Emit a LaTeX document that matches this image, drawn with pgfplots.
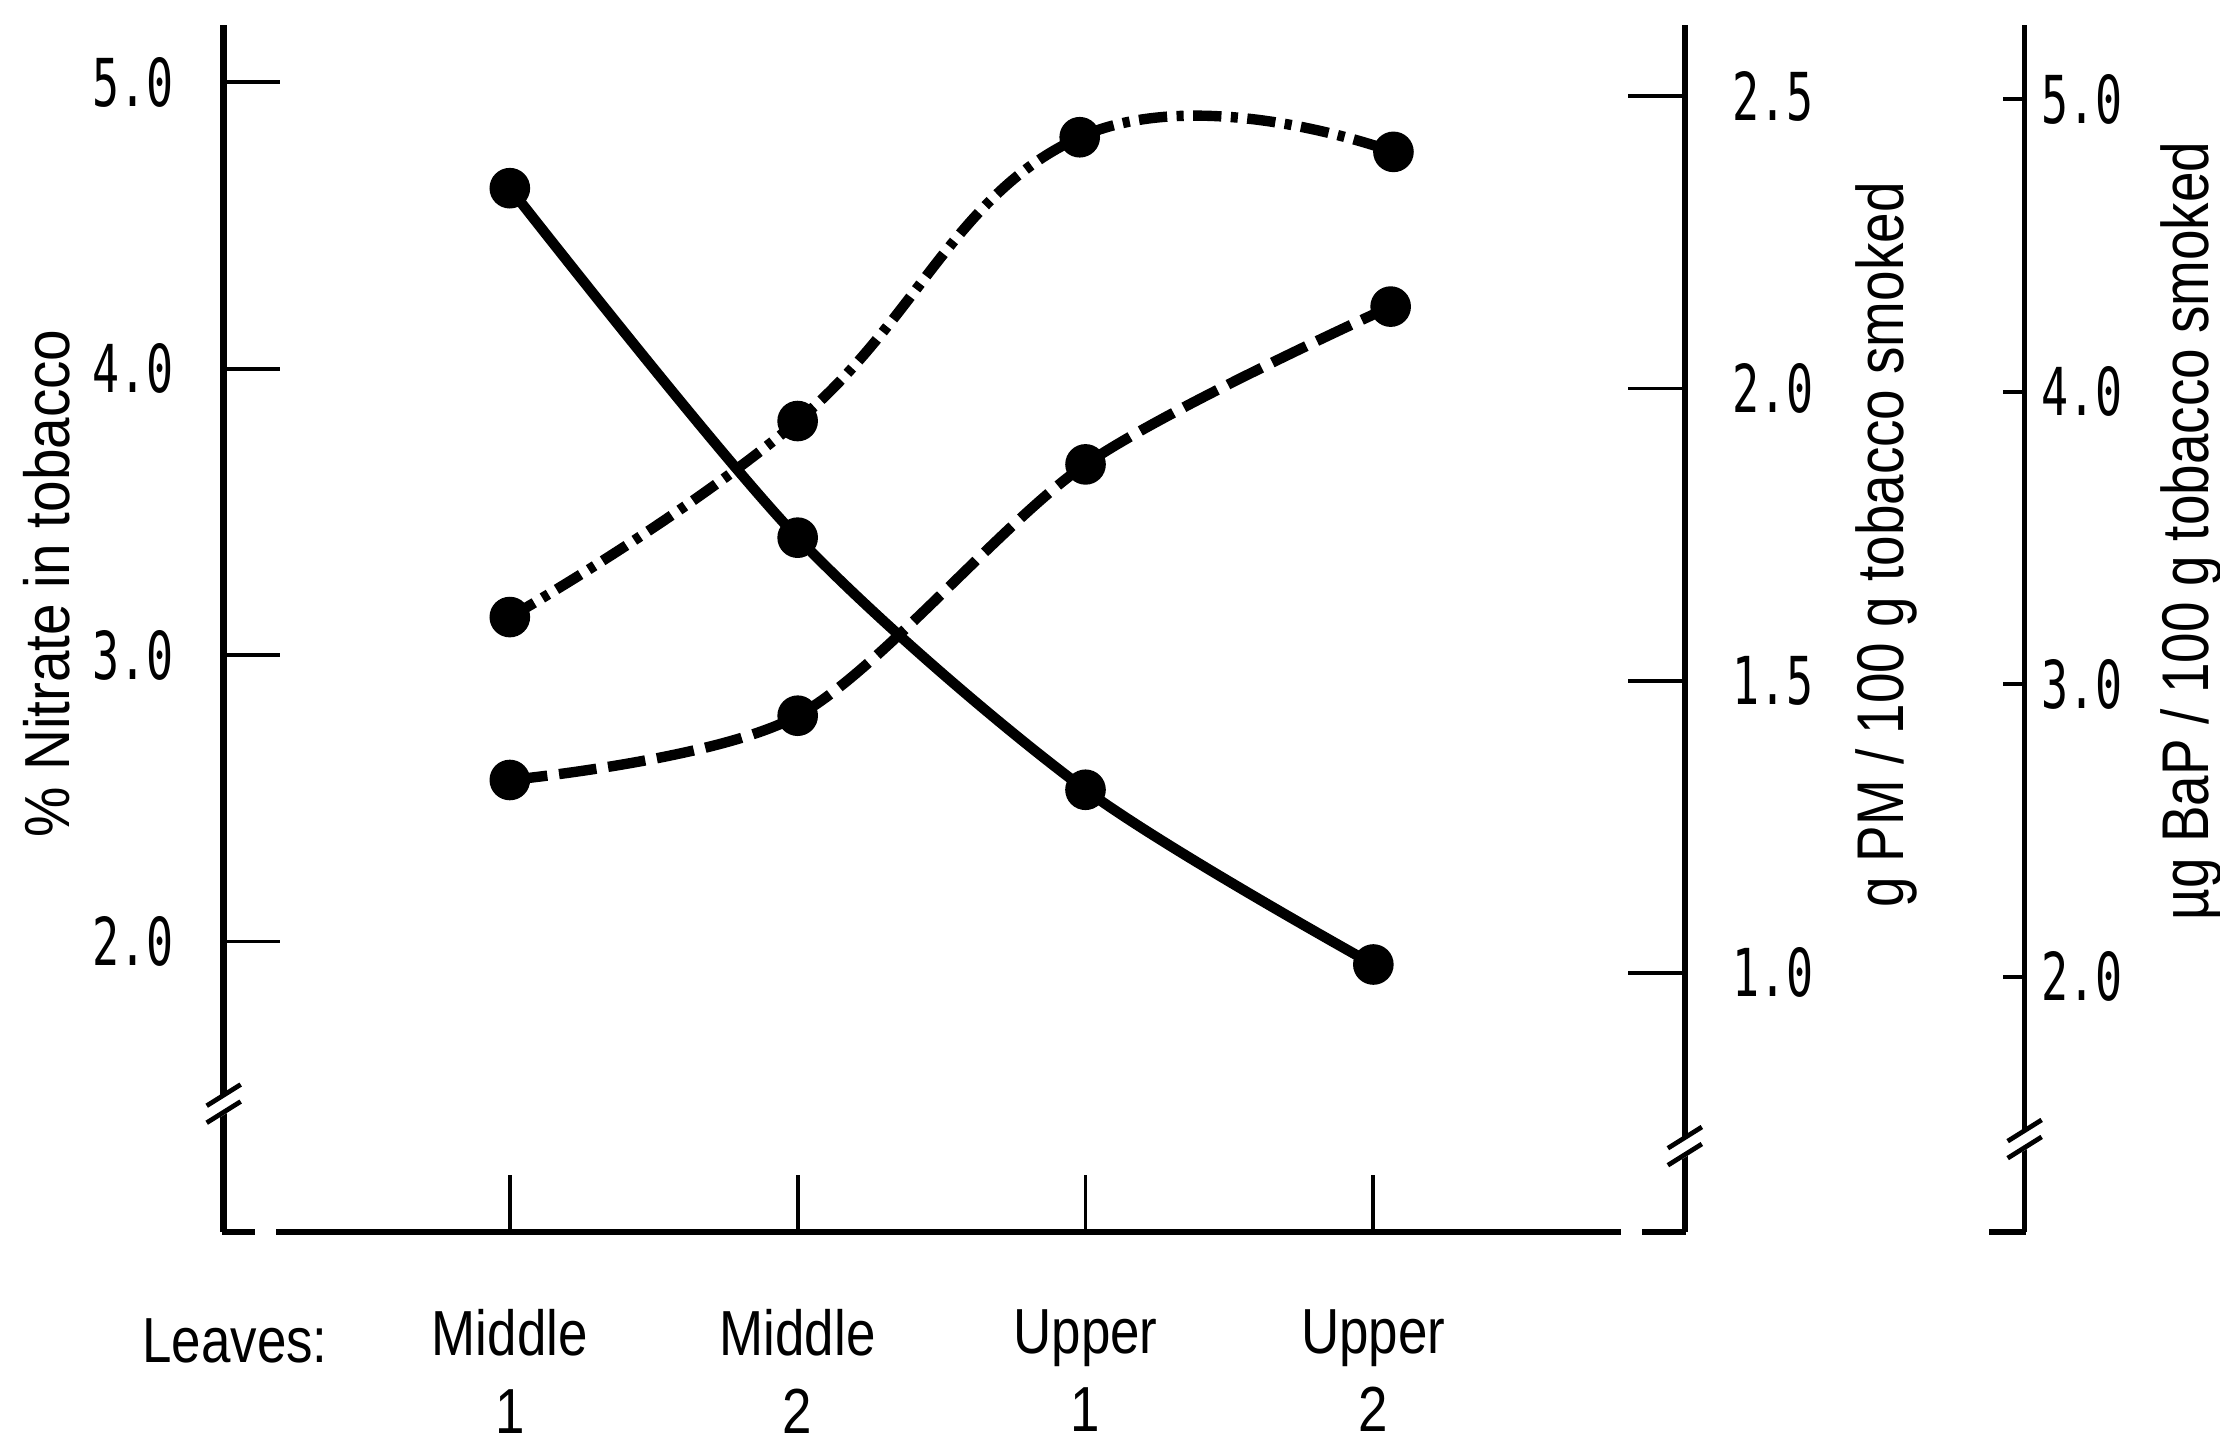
\documentclass[border=0pt]{standalone}
\usepackage{fontspec}
\setmainfont{Liberation Sans}
\newfontfamily\monofont[FakeStretch=0.68]{DejaVu Sans Mono}
\newfontfamily\narrowfont[FakeStretch=0.83]{Liberation Sans}
\newfontfamily\labelfont[FakeStretch=0.89]{Liberation Sans}
\usepackage{pgfplots}
\pgfplotsset{compat=1.18}
\begin{document}
\begin{tikzpicture}
\useasboundingbox (0,0) rectangle (470.4pt,-306.9pt);
\pgfplotsset{
  base/.style={
    scale only axis, anchor=south west, at={(47.4pt,-261pt)},
    height=255.6pt, xmin=-0.994,
    tick align=inside, major tick length=12pt,
    major tick style={line width=0.8pt, black},
    yticklabel style={font=\monofont\fontsize{14}{16}\selectfont},
    clip=false,
  },
  mk/.style={mark=*, mark size=3.2pt, mark options={solid}, line width=2.2pt, black, smooth},
}
% Axis A: nitrate (left)
\begin{axis}[base, width=306.6pt, xmax=4.033, ymin=0.987, ymax=5.198,
  axis y line*=left, axis x line*=bottom,
  x axis line style={draw=none},
  y axis line style={line width=1.6pt,-},
  xtick={0,1,2,3},
  xticklabels={Middle\\1,Middle\\2,Upper\\1,Upper\\2},
  xticklabel style={align=center, font=\narrowfont\fontsize{13.5}{16.5}\selectfont, yshift=-13pt},
  ytick={2,3,4,5}, yticklabels={2.0,3.0,4.0,5.0},
  yticklabel style={xshift=-7pt}]
\addplot[mk] coordinates {(0,4.63) (1,3.41) (2,2.53) (3,1.92)};
\end{axis}
% Axis B: PM (first right axis)
\begin{axis}[base, width=309.6pt, xmax=4.082, ymin=0.557, ymax=2.621,
  axis x line=none, axis y line*=right,
  y axis line style={line width=1.2pt,-},
  ytick={1,1.5,2,2.5}, yticklabels={1.0,1.5,2.0,2.5},
  yticklabel style={xshift=6.5pt}]
\addplot[mk, dash pattern=on 8pt off 2.5pt] coordinates {(0,1.33) (1,1.44) (2,1.87) (3.06,2.14)};
\end{axis}
% Axis C: BaP (second right axis)
\begin{axis}[base, width=381.6pt, xmax=5.263, ymin=1.129, ymax=5.252,
  axis x line=none, axis y line*=right, major tick length=4.5pt,
  y axis line style={line width=1.2pt,-},
  ytick={2,3,4,5}, yticklabels={2.0,3.0,4.0,5.0},
  yticklabel style={xshift=0pt}]
\addplot[mk, tension=0.75, dash pattern=on 6pt off 2pt on 1.5pt off 2pt] coordinates {(0,3.23) (1,3.90) (1.98,4.87) (3.07,4.82)};
\end{axis}
\begin{scope}[x=0.3pt, y=-0.3pt]
  % broken x axis and feet
  \draw[line width=1.2pt] (195,870) -- (1145,870);
  \draw[line width=1.2pt] (157,870) -- (180,870);
  \draw[line width=1.2pt] (1160,870) -- (1191,870);
  \draw[line width=1.2pt] (1405,870) -- (1431,870);
  % break marks
  \foreach \bx/\by in {158/775, 1190/805, 1430/800}{
    \fill[white] (\bx-9,\by+4) -- (\bx+9,\by-7) -- (\bx+9,\by+7) -- (\bx-9,\by+18) -- cycle;
    \draw[line width=1pt] (\bx-12,\by+6) -- (\bx+12,\by-9);
    \draw[line width=1pt] (\bx-12,\by+18) -- (\bx+12,\by+3);
  }
  % labels
  \node[rotate=90, anchor=base, inner sep=0pt, font=\labelfont\fontsize{13.5}{16}\selectfont] at (49,412) {\% Nitrate in tobacco};
  \node[rotate=90, font=\narrowfont\fontsize{14}{17}\selectfont] at (1332,385) {g PM / 100 g tobacco smoked};
  \node[rotate=90, font=\narrowfont\fontsize{14}{17}\selectfont] at (1548,375) {µg BaP / 100 g tobacco smoked};
  \node[anchor=base, font=\narrowfont\fontsize{13.5}{16.5}\selectfont] at (166,962) {Leaves:};
\end{scope}
\end{tikzpicture}
\end{document}
